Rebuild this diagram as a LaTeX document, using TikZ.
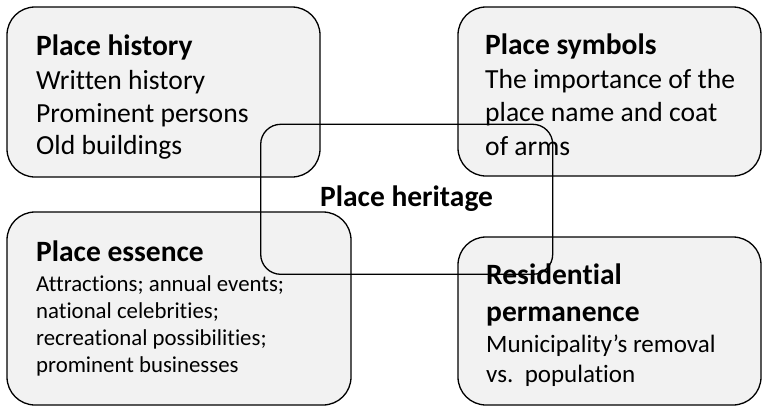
\documentclass[tikz,border=0pt]{standalone}
\usepackage{fontspec}
\setmainfont{Carlito}[Ligatures={NoCommon,NoContextual}]
\definecolor{boxfill}{RGB}{242,242,242}
\tikzset{
  panel/.style={draw=black, line width=1.3pt, fill=boxfill, rounded corners=28pt, inner sep=0pt},
  core/.style={draw=black, line width=1.3pt, rounded corners=20pt, inner sep=0pt},
  ttl/.style={anchor=base west, inner sep=0pt, font=\fontsize{29.5}{31}\selectfont\bfseries},
  txt/.style={anchor=base west, inner sep=0pt, font=\fontsize{27.6}{30}\selectfont},
  mtxt/.style={anchor=base west, inner sep=0pt, font=\fontsize{25}{28}\selectfont},
  small/.style={anchor=base west, inner sep=0pt, font=\fontsize{22.8}{25}\selectfont}
}
\begin{document}
\begin{tikzpicture}[x=1pt,y=-1pt]
\useasboundingbox (0,0) rectangle (762,407);
% panels
\draw[panel] (7,7) rectangle (320,177) node[pos=0.5] (hist) {};
\draw[panel] (458,7) rectangle (761,176) node[pos=0.5] (symb) {};
\draw[panel] (7,212) rectangle (351,405) node[pos=0.5] (ess) {};
\draw[panel] (458,237) rectangle (761,405) node[pos=0.5] (res) {};
% texts
\node[ttl] (h0) at (36,55) {Place history};
\node[txt] (h1) at (36,89) {Written history};
\node[txt] (h2) at (36,122) {Prominent persons};
\node[txt] (h3) at (36,154) {Old buildings};
\node[ttl] (s0) at (485,54) {Place symbols};
\node[txt] (s1) at (485,88) {The importance of the};
\node[txt] (s2) at (485,121) {place name and coat};
\node[txt] (s3) at (485,155) {of arms};
\node[ttl] (e0) at (36,261) {Place essence};
\node[small] (e1) at (36,291) {Attractions; annual events;};
\node[small] (e2) at (36,318) {national celebrities;};
\node[small] (e3) at (36,345) {recreational possibilities;};
\node[small] (e4) at (36,372) {prominent businesses};
\node[ttl] (r0) at (486,284) {Residential};
\node[ttl] (r1) at (486,321) {permanence};
\node[mtxt] (r2) at (486,352) {Municipality’s removal};
\node[mtxt] (r3) at (486,382) {vs.\ \ population};
% centre frame
\draw[core] (260.7,124.3) rectangle (552.7,274.3) node[pos=0.5] (mid) {};
\node[ttl] (c0) at (320,206) {Place heritage};
\end{tikzpicture}
\end{document}
